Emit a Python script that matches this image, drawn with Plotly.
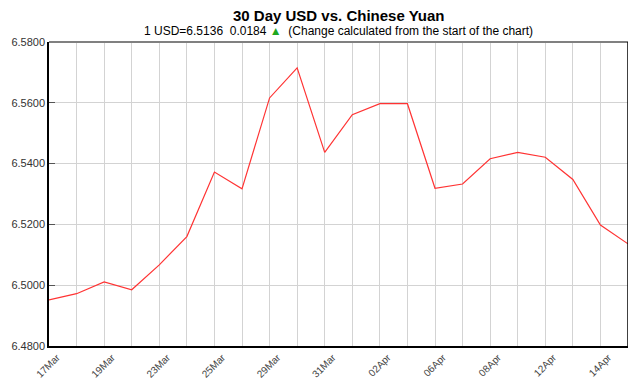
import plotly.graph_objects as go

dates = ["17Mar", "18Mar", "19Mar", "22Mar", "23Mar", "24Mar", "25Mar", "26Mar",
         "29Mar", "30Mar", "31Mar", "01Apr", "02Apr", "05Apr", "06Apr", "07Apr",
         "08Apr", "09Apr", "12Apr", "13Apr", "14Apr", "15Apr"]
rates = [6.4952, 6.4972, 6.5011, 6.4985, 6.5067, 6.5160, 6.5372, 6.5317,
         6.5616, 6.5715, 6.5437, 6.5561, 6.5597, 6.5597, 6.5319, 6.5333,
         6.5416, 6.5437, 6.5421, 6.5348, 6.5198, 6.5136]
y_ticks = [6.48, 6.50, 6.52, 6.54, 6.56, 6.58]

idx = list(range(len(dates)))
tick_text = [d if i % 2 == 0 else "" for i, d in enumerate(dates)]

fig = go.Figure()
fig.add_trace(go.Scatter(x=idx, y=rates, mode="lines",
                         line=dict(color="#ff3333", width=1.2),
                         hoverinfo="skip", showlegend=False))

font_family = "Liberation Sans, Arial, sans-serif"

# the page body has an 8px default margin, so the figure is sized to fit inside
fig.update_layout(
    width=628, height=370,
    margin=dict(l=41, r=8, t=34, b=32),
    paper_bgcolor="white", plot_bgcolor="white",
    font=dict(family=font_family, color="#333333"),
    xaxis=dict(range=[0, len(dates) - 1], tickvals=idx, ticktext=tick_text,
               tickangle=-45, tickfont=dict(size=10, color="#444444"),
               ticklabelshift=8, ticklabelstandoff=0,
               showgrid=True, gridcolor="#d3d3d3", gridwidth=1,
               showline=True, linecolor="black", linewidth=1.5,
               ticks="", zeroline=False, fixedrange=True, automargin=False),
    yaxis=dict(range=[6.48, 6.58], tickvals=y_ticks,
               ticktext=[f"{v:.4f}" for v in y_ticks],
               tickfont=dict(size=11, color="#333333"),
               showgrid=True, gridcolor="#d3d3d3", gridwidth=1,
               showline=True, linecolor="black", linewidth=1.5, mirror=False,
               ticks="inside", ticklen=6, tickcolor="#555555",
               zeroline=False, fixedrange=True, automargin=False),
    shapes=[
        dict(type="line", xref="paper", yref="paper", x0=0, x1=1, y0=1, y1=1,
             line=dict(color="#808080", width=2)),
        dict(type="line", xref="paper", yref="paper", x0=1, x1=1, y0=0, y1=1,
             line=dict(color="black", width=1.5)),
    ],
    annotations=[
        dict(text="<b>30 Day USD vs. Chinese Yuan</b>", xref="paper", yref="paper",
             x=0.5, y=1, yshift=16, xanchor="center", yanchor="bottom",
             showarrow=False, font=dict(size=15, color="black", family=font_family)),
        dict(text="1 USD=6.5136  0.0184 <span style='color:#1fa81f'>▲</span>  (Change calculated from the start of the chart)",
             xref="paper", yref="paper", x=0.5, y=1, yshift=2,
             xanchor="center", yanchor="bottom", showarrow=False,
             font=dict(size=12, color="black", family=font_family)),
    ],
)

fig.write_html("out.html")
